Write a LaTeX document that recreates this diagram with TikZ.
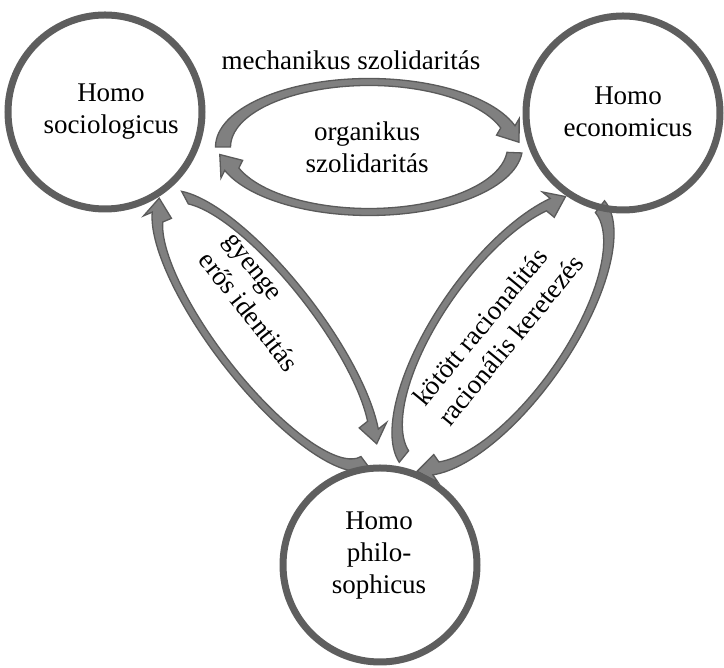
\documentclass[tikz,border=0pt]{standalone}
\usepackage{fontspec}
\setmainfont{Liberation Serif}
\definecolor{ringc}{HTML}{5E5E5E}
\definecolor{arrfill}{HTML}{808080}
\definecolor{arrline}{HTML}{5A5A5A}
\tikzset{
  ring/.style={circle, draw=ringc, line width=7pt, minimum size=194pt, inner sep=0pt},
  lbl/.style={align=center, font=\fontsize{27}{32}\selectfont, inner sep=0pt},
  barrowstyle/.style={fill=arrfill, draw=arrline, line width=1.3pt, line join=miter},
}
\def\btx{7.5}
\def\bty{3.5}
\def\bhh{14}
\def\bLL{19}
% #1=A, #2=B, #3=start angle, #4=end angle (head base), clockwise
\newcommand\barrow[4]{%
  \pgfmathsetmacro\baAo{#1+\btx}\pgfmathsetmacro\baBo{#2+\bty}%
  \pgfmathsetmacro\baAi{#1-\btx}\pgfmathsetmacro\baBi{#2-\bty}%
  \pgfmathsetmacro\baSx{\baAo*cos(#3)}\pgfmathsetmacro\baSy{\baBo*sin(#3)}%
  \pgfmathsetmacro\baIx{\baAi*cos(#4)}\pgfmathsetmacro\baIy{\baBi*sin(#4)}%
  \pgfmathsetmacro\baEx{#1*cos(#4)}\pgfmathsetmacro\baEy{#2*sin(#4)}%
  \pgfmathsetmacro\baNx{#2*cos(#4)}\pgfmathsetmacro\baNy{#1*sin(#4)}%
  \pgfmathsetmacro\baNn{sqrt(\baNx*\baNx+\baNy*\baNy)}%
  \pgfmathsetmacro\banx{\baNx/\baNn}\pgfmathsetmacro\bany{\baNy/\baNn}%
  \pgfmathsetmacro\baPx{\baEx+\bhh*\banx}\pgfmathsetmacro\baPy{\baEy+\bhh*\bany}%
  \pgfmathsetmacro\baQx{\baEx-\bhh*\banx}\pgfmathsetmacro\baQy{\baEy-\bhh*\bany}%
  \pgfmathsetmacro\baTx{\baEx+\bLL*\bany}\pgfmathsetmacro\baTy{\baEy-\bLL*\banx}%
  \filldraw[barrowstyle] (\baSx,\baSy)
    arc[start angle=#3, end angle=#4, x radius=\baAo, y radius=\baBo]
    -- (\baPx,\baPy) -- (\baTx,\baTy) -- (\baQx,\baQy) -- (\baIx,\baIy)
    arc[start angle=#4, end angle=#3, x radius=\baAi, y radius=\baBi] -- cycle;
}
\begin{document}
\begin{tikzpicture}[x=1pt,y=1pt]
\useasboundingbox (0,0) rectangle (724,668);
% top pair
\begin{scope}[shift={(369,521)}]
  \barrow{146}{65}{180}{18}
  \barrow{146}{65}{-5}{-160}
\end{scope}
% left pair
\begin{scope}[shift={(266,337)}, rotate=-52.3]
  \barrow{165}{51}{160}{32}
  \barrow{165}{51}{-2}{-161.5}
\end{scope}
% right pair
\begin{scope}[shift={(503,335)}, rotate=54.9]
  \barrow{160}{64}{171}{35}
  \barrow{160}{64}{-6}{-159}
\end{scope}
% circles
\node[ring] (soc) at (105,556) {};
\node[ring] (eco) at (623,555) {};
\node[ring] (phi) at (380,103) {};
% texts
\node[lbl] (tsoc) at (111,556) {Homo\\sociologicus};
\node[lbl] (teco) at (628,556) {Homo\\economicus};
\node[lbl] (tphi) at (379,112) {Homo\\philo-\\sophicus};
\node[lbl] (tmech) at (351,608) {mechanikus szolidaritás};
\node[lbl] (torg) at (367,521) {organikus\\szolidaritás};
\node[lbl, align=left, rotate=-52] (tid) at (260,365) {gyenge\\erős identitás};
\node[lbl, align=left, rotate=50.5] (trac) at (498,338) {kötött racionalitás\\racionális keretezés};
\end{tikzpicture}
\end{document}
